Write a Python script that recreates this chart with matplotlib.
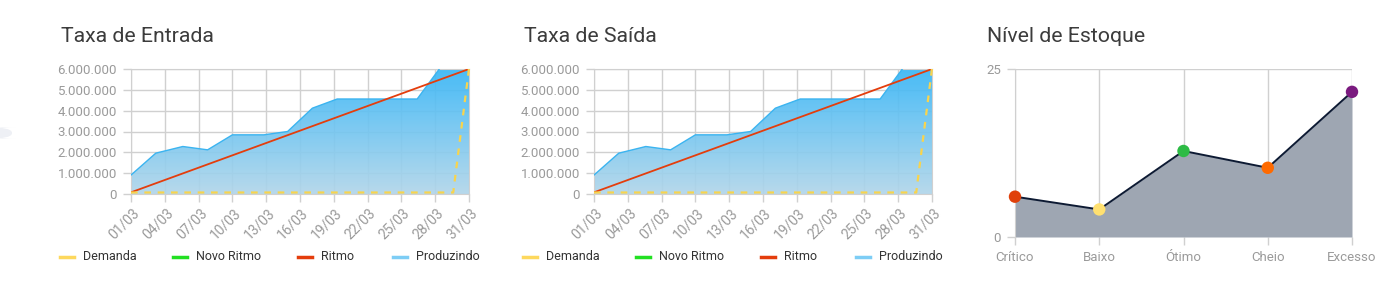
import numpy as np
import matplotlib
matplotlib.use("Agg")
import matplotlib.pyplot as plt
import matplotlib.transforms as mtransforms
from matplotlib.lines import Line2D
from matplotlib.patches import FancyBboxPatch
from matplotlib.ticker import FuncFormatter

plt.rcParams['font.family'] = ['Roboto', 'DejaVu Sans']

# --- dados ---
dias_ticks = [1, 4, 7, 10, 13, 16, 19, 22, 25, 28, 31]
rotulos_dias = ["01/03", "04/03", "07/03", "10/03", "13/03", "16/03",
                "19/03", "22/03", "25/03", "28/03", "31/03"]

produzindo_x = [1, 3.2, 5.6, 7.8, 10.0, 12.8, 14.9, 17.1, 19.3, 26.4, 28.5, 31]
produzindo_y = [910000, 1960000, 2280000, 2120000, 2840000, 2840000, 3000000,
                4120000, 4560000, 4560000, 6100000, 6500000]

ritmo_x = [1, 31]
ritmo_y = [80000, 6000000]

demanda_x = [1, 29.6, 31]
demanda_y = [0, 0, 5950000]

estoque_cat = ["Crítico", "Baixo", "Ótimo", "Cheio", "Excesso"]
estoque_val = [6.0, 4.1, 12.8, 10.3, 21.6]
estoque_cores = ["#e0400a", "#ffe070", "#2dbb45", "#ff6a00", "#7a1a7f"]

legenda_nomes = ["Demanda", "Novo Ritmo", "Ritmo", "Produzindo"]
legenda_cores = ["#fdd85d", "#22e022", "#e43d0c", "#7dcdf5"]

CINZA_GRID = "#d0d0d0"
CINZA_TXT = "#9a9a9a"
TITULO = "#3c3c3c"

fig = plt.figure(figsize=(14, 2.85), dpi=100)
W, H = 1400, 285


def px_ax(x0, y0, x1, y1):
    return fig.add_axes([x0 / W, 1 - y1 / H, (x1 - x0) / W, (y1 - y0) / H])


def fmt_milhar(v, pos):
    return f"{int(v):,}".replace(",", ".")


def grafico_taxa(x0, titulo):
    ax = px_ax(x0, 69, x0 + 338, 194)
    ax.set_xlim(1, 31)
    ax.set_ylim(0, 6000000)

    # gradiente azul
    cmap = matplotlib.colors.LinearSegmentedColormap.from_list(
        "az", ["#b2d6ea", "#38b6f6"])
    grad = np.linspace(0, 1, 256).reshape(-1, 1)
    poly = ax.fill_between(produzindo_x, produzindo_y, 0, color="none", zorder=2)
    img = ax.imshow(grad, extent=[1, 31, 0, 6000000], origin="lower",
                    aspect="auto", cmap=cmap, alpha=0.92, zorder=2)
    path = poly.get_paths()[0]
    img.set_clip_path(path, transform=ax.transData)
    ax.plot(produzindo_x, produzindo_y, color="#3bb4f0", lw=1.0, zorder=3)

    # demanda um pouco acima do eixo, como no original
    sobe = mtransforms.ScaledTranslation(0, 1.5 / 100, fig.dpi_scale_trans)
    dem = ax.plot(demanda_x, demanda_y, color="#f8d44e", lw=1.6,
                  ls=(0, (3, 3)), zorder=6,
                  transform=ax.transData + sobe)[0]
    dem.set_clip_on(False)
    ax.plot(ritmo_x, ritmo_y, color="#e43d0c", lw=1.3, zorder=5)

    ax.set_xticks(dias_ticks)
    ax.set_xticklabels([])
    # rotulos inclinados desenhados a mao (ancorados a direita)
    desloc = mtransforms.ScaledTranslation(6 / 100, -17 / 100, fig.dpi_scale_trans)
    for d, r in zip(dias_ticks, rotulos_dias):
        ax.text(d, 0, r, rotation=45, rotation_mode="anchor", ha="right",
                va="center", fontsize=10, color=CINZA_TXT,
                transform=ax.get_xaxis_transform() + desloc, clip_on=False)
    ax.set_yticks(np.arange(0, 6000001, 1000000))
    ax.yaxis.set_major_formatter(FuncFormatter(fmt_milhar))
    ax.tick_params(axis="both", colors=CINZA_GRID, labelcolor=CINZA_TXT,
                   labelsize=9.5, length=6, width=1, pad=4)
    ax.grid(True, color=CINZA_GRID, lw=1, zorder=0)
    ax.set_axisbelow(True)
    for s in ax.spines.values():
        s.set_color(CINZA_GRID)

    fig.text((x0 - 70) / W, 1 - 37 / H, titulo, fontsize=15.3, color=TITULO,
             va="center", ha="left")

    # legenda
    lx = [x0 - 71, x0 + 42, x0 + 167, x0 + 262]
    for xi, nome, cor in zip(lx, legenda_nomes, legenda_cores):
        fig.add_artist(Line2D([xi / W, (xi + 14) / W], [1 - 257 / H] * 2,
                              color=cor, lw=2.5, transform=fig.transFigure))
        fig.text((xi + 23) / W, 1 - 257 / H, nome, fontsize=9, color="#333333",
                 va="center", ha="left")
    return ax


grafico_taxa(131, "Taxa de Entrada")
grafico_taxa(594, "Taxa de Saída")

# --- Nível de Estoque ---
ax3 = px_ax(1015, 69, 1352, 237)
xs = np.arange(len(estoque_cat))
ax3.set_xlim(0, len(estoque_cat) - 1)
ax3.set_ylim(0, 25)
ax3.fill_between(xs, estoque_val, 0, color="#9ea6b2", zorder=2, lw=0)
ax3.plot(xs, estoque_val, color="#0d1a33", lw=1.4, zorder=3)
ax3.scatter(xs, estoque_val, s=80, c=estoque_cores, zorder=4, linewidths=0,
            clip_on=False)
ax3.set_xticks(xs)
ax3.set_xticklabels(estoque_cat)
ax3.set_yticks([0, 25])
ax3.tick_params(axis="both", colors=CINZA_GRID, labelcolor=CINZA_TXT,
                labelsize=9.5, length=6, width=1, pad=4)
ax3.grid(True, axis="x", color=CINZA_GRID, lw=1, zorder=0)
ax3.axhline(25, color=CINZA_GRID, lw=1, zorder=0)
for nome, s in ax3.spines.items():
    s.set_visible(nome == "left")
    s.set_color(CINZA_GRID)
fig.text(987 / W, 1 - 37 / H, "Nível de Estoque", fontsize=15.3, color=TITULO,
         va="center", ha="left")

# detalhe cinza na borda esquerda
fig.add_artist(FancyBboxPatch((-12 / W, 1 - 139 / H), 24 / W, 12 / H,
                              boxstyle="round,pad=0,rounding_size=0.02",
                              transform=fig.transFigure, color="#eef0f5", lw=0))

fig.savefig("out.png", dpi=100, facecolor="white")
